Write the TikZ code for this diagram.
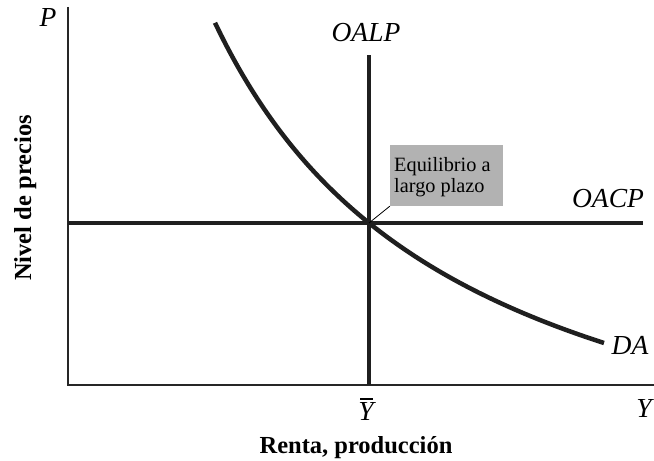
\documentclass[tikz,border=0pt]{standalone}
\usepackage{fontspec}
\setmainfont{Liberation Serif}
\begin{document}
\begin{tikzpicture}[x=1pt,y=1pt,
  axisline/.style={line width=1.8pt,draw=black!85},
  curveline/.style={line width=4.5pt,draw=black!88},
  ilabel/.style={font=\fontsize{27.5}{30}\selectfont\itshape,inner sep=0pt},
  blabel/.style={font=\fontsize{24.5}{27}\selectfont\bfseries,inner sep=0pt},
  notebox/.style={fill=black!30,inner sep=0pt,minimum width=113pt,minimum height=61pt},
  boxtext/.style={anchor=base west,inner sep=0pt,font=\fontsize{20.3}{22}\selectfont},
  leader/.style={line width=0.8pt,draw=black}]
\useasboundingbox (0,0) rectangle (654,461);
% axes
\coordinate (O) at (68,76);
\coordinate (Ytop) at (68,454);
\coordinate (Xend) at (654,76);
\draw[axisline] (Ytop) -- (O) -- (Xend);
% OACP horizontal
\coordinate (hL) at (68,238);
\coordinate (hR) at (643,238);
\draw[curveline,line width=4.3pt] (hL) -- (hR);
% OALP vertical
\coordinate (vB) at (369,76);
\coordinate (vT) at (369,406);
\draw[curveline,line width=4.8pt] (vB) -- (vT);
% DA curve
\draw[curveline] plot[domain=215:604,samples=100,smooth] (\x,{-89+1326/((\x+36.5)/100)});
\coordinate (E) at (369,238);
% box
\node[notebox] (box) at (446.5,285.5) {};
\node[boxtext] (l1) at (394,289) {Equilibrio a};
\node[boxtext] (l2) at (394,268) {largo plazo};
\draw[leader] (box.south west) -- (E);
% labels
\node[ilabel,anchor=base] (P) at (48,434) {P};
\node[ilabel,anchor=base] (oalp) at (366,419) {OALP};
\node[ilabel,anchor=base] (oacp) at (608,253) {OACP};
\node[ilabel,anchor=base] (da) at (630,106) {DA};
\node[ilabel,anchor=base] (Yx) at (644,43) {Y};
\node[ilabel,anchor=base] (Ybar) at (366,40) {Y};
\coordinate (barL) at (360,62);
\coordinate (barR) at (373,62);
\draw[line width=1.5pt] (barL) -- (barR);
\node[blabel,anchor=base] (xl) at (356,8) {Renta, producción};
\node[blabel,rotate=90,anchor=base] (yl) at (31,263) {Nivel de precios};
\end{tikzpicture}
\end{document}
